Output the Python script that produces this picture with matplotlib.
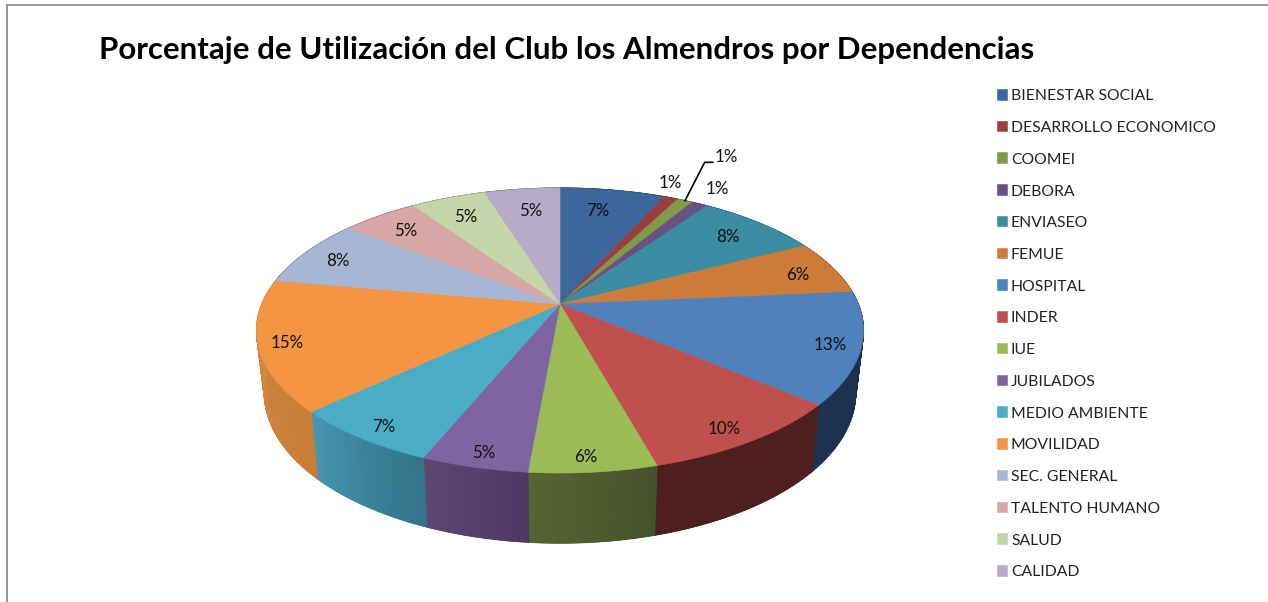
import numpy as np
import matplotlib
matplotlib.use("Agg")
from matplotlib import pyplot as plt
from matplotlib.patches import Rectangle

plt.rcParams['font.family'] = ['Lato', 'DejaVu Sans']

titulo = "Porcentaje de Utilización del Club los Almendros por Dependencias"

dependencias = ["BIENESTAR SOCIAL", "DESARROLLO ECONOMICO", "COOMEI", "DEBORA",
                "ENVIASEO", "FEMUE", "HOSPITAL", "INDER", "IUE", "JUBILADOS",
                "MEDIO AMBIENTE", "MOVILIDAD", "SEC. GENERAL", "TALENTO HUMANO",
                "SALUD", "CALIDAD"]
valores = [6.7, 0.9, 1.0, 1.0, 7.8, 6.2, 12.6, 9.5, 5.7, 4.8, 6.8, 14.8, 7.7, 4.9, 4.8, 4.8]

colores = ["#3C679B", "#9B3E3D", "#7F9A48", "#695185", "#3C8DA3", "#CC7B38",
           "#4F81BD", "#C0504D", "#9BBB59", "#8064A2", "#4BACC6", "#F39543",
           "#A7B6D4", "#D7A7A7", "#C5D4A9", "#B7ACC7"]

# color of the side wall at the start and end of each slice (clockwise)
lado_ini = ["#1E3450", "#4E2020", "#40502A", "#352A45", "#1E4852", "#66401C",
            "#1C324E", "#4E1F1F", "#46522A", "#503764", "#327387", "#C87D37",
            "#5A6478", "#6E5555", "#646E55", "#5A5564"]
lado_fin = ["#1E3450", "#4E2020", "#40502A", "#352A45", "#1E4852", "#66401C",
            "#1C324E", "#4E1F1F", "#566432", "#5F4673", "#4896AF", "#D78C46",
            "#5A6478", "#6E5555", "#646E55", "#5A5564"]

# label centers, in pixels
pos_etiquetas = [(598, 209), (670, 181), (726, 156), (717, 187), (728, 235), (798, 274),
                 (830, 343), (724, 428), (586, 456), (484, 451), (384, 426), (287, 341),
                 (338, 260), (406, 229), (466, 216), (531, 209)]

# geometry of the tilted pie
cx, cy = 560, 304
a, c, d = 137.6, 0.186, 298.2
fondo_x, fondo_y, fondo_k = 0.974, 61.1, 1.053


def proyecta(theta):
    x = np.sin(theta)
    y = np.cos(theta)
    w = 1 + c * y
    return d * x / w, -a * y / w


def arriba(theta):
    px, py = proyecta(theta)
    return cx + px, cy + py


def abajo(theta):
    px, py = proyecta(theta)
    return cx + fondo_x * px, cy + fondo_y + fondo_k * py


def mezcla(c1, c2, t):
    c1 = np.array(matplotlib.colors.to_rgb(c1))
    c2 = np.array(matplotlib.colors.to_rgb(c2))
    return tuple(c1 + (c2 - c1) * t)


fig = plt.figure(figsize=(12.68, 6.02), dpi=100, facecolor='white')
ax = fig.add_axes([0, 0, 1, 1])
ax.set_xlim(0, 1268)
ax.set_ylim(602, 0)
ax.axis('off')

# outer border, only top and left show
ax.plot([7, 7, 1268], [602, 4.5, 4.5], color='#868686', lw=1.2, solid_joinstyle='miter')

total = sum(valores)
cortes = np.concatenate([[0], np.cumsum(valores)]) / total * 2 * np.pi

# side walls first, the top surface covers the back part
for i in range(len(valores)):
    th = np.linspace(cortes[i], cortes[i + 1], 60)
    x1, y1 = arriba(th)
    x2, y2 = abajo(th)
    # plain base so the strips leave no seams
    ax.fill(np.r_[x1, x2[::-1]], np.r_[y1, y2[::-1]],
            color=mezcla(lado_ini[i], lado_fin[i], 0.5), lw=0.5)
    pasos = max(3, int(valores[i] * 6))
    th = np.linspace(cortes[i], cortes[i + 1], pasos + 1)
    for k in range(pasos):
        x1, y1 = arriba(th[k:k + 2])
        x2, y2 = abajo(th[k:k + 2])
        col = mezcla(lado_ini[i], lado_fin[i], (k + 0.5) / pasos)
        ax.fill([x1[0], x1[1], x2[1], x2[0]], [y1[0], y1[1], y2[1], y2[0]],
                color=col, lw=0.8)

# top surface
for i in range(len(valores)):
    th = np.linspace(cortes[i], cortes[i + 1], 60)
    x1, y1 = arriba(th)
    ax.fill(np.r_[cx, x1], np.r_[cy, y1], color=colores[i], lw=0.4)

# value labels
for i in range(len(valores)):
    ax.text(pos_etiquetas[i][0], pos_etiquetas[i][1] + 1.5, f"{valores[i]:.0f}%",
            fontsize=12.2, color='#111111', ha='center', va='center')

# leader line of COOMEI
xl, yl = arriba((cortes[2] + cortes[3]) / 2)
ax.plot([xl, 704.7, 712.7], [yl, 162.3, 162.3], color='black', lw=1.2)

ax.text(99, 50, titulo, fontsize=22.5, fontweight='bold', color='black',
        ha='left', va='center')

# legend
filas = np.linspace(94.5, 570.5, len(dependencias))
for i in range(len(dependencias)):
    ax.add_patch(Rectangle((996.5, filas[i] - 5.5), 10.5, 10.5, facecolor=colores[i],
                           edgecolor=colores[i], lw=0.4))
    ax.text(1011, filas[i] + 1.8, dependencias[i], fontsize=11.35, color='#222222',
            ha='left', va='center')

fig.savefig('out.png', dpi=100, facecolor='white')
